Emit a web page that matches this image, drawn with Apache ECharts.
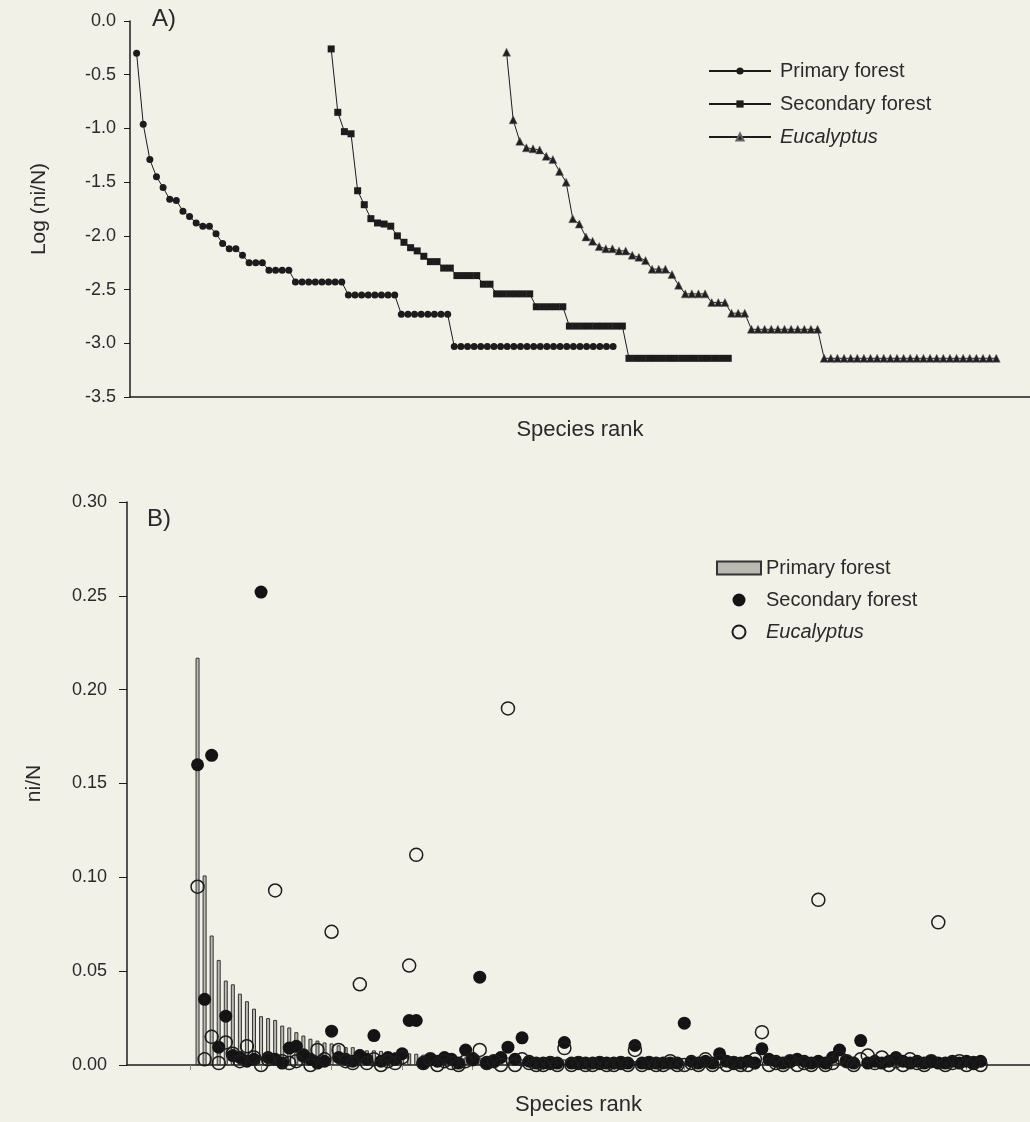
<!DOCTYPE html>
<html>
<head>
<meta charset="utf-8">
<script src="https://cdn.jsdelivr.net/npm/echarts@6/dist/echarts.min.js"></script>
<style>
  html, body { margin: 0; padding: 0; background: #f1f1e8; }
  #chart { width: 1030px; height: 1122px; }
</style>
</head>
<body>
<div id="chart"></div>
<script>
// Panel A: log abundance per species rank
const primaryLog = [
  -0.30, -0.96, -1.29, -1.45, -1.55, -1.66, -1.67, -1.77, -1.82, -1.88,
  -1.91, -1.91, -1.98, -2.07, -2.12, -2.12, -2.18, -2.25, -2.25, -2.25,
  -2.32, -2.32, -2.32, -2.32, -2.43, -2.43, -2.43, -2.43, -2.43, -2.43,
  -2.43, -2.43, -2.55, -2.55, -2.55, -2.55, -2.55, -2.55, -2.55, -2.55,
  -2.73, -2.73, -2.73, -2.73, -2.73, -2.73, -2.73, -2.73, -3.03, -3.03,
  -3.03, -3.03, -3.03, -3.03, -3.03, -3.03, -3.03, -3.03, -3.03, -3.03,
  -3.03, -3.03, -3.03, -3.03, -3.03, -3.03, -3.03, -3.03, -3.03, -3.03,
  -3.03, -3.03, -3.03
];
const secondaryLog = [
  -0.26, -0.85, -1.03, -1.05, -1.58, -1.71, -1.84, -1.88, -1.89, -1.91,
  -2.00, -2.06, -2.11, -2.14, -2.19, -2.24, -2.24, -2.30, -2.30, -2.37,
  -2.37, -2.37, -2.37, -2.45, -2.45, -2.54, -2.54, -2.54, -2.54, -2.54,
  -2.54, -2.66, -2.66, -2.66, -2.66, -2.66, -2.84, -2.84, -2.84, -2.84,
  -2.84, -2.84, -2.84, -2.84, -2.84, -3.14, -3.14, -3.14, -3.14, -3.14,
  -3.14, -3.14, -3.14, -3.14, -3.14, -3.14, -3.14, -3.14, -3.14, -3.14,
  -3.14
];
const eucalyptusLog = [
  -0.29, -0.92, -1.12, -1.18, -1.19, -1.20, -1.26, -1.29, -1.40, -1.50,
  -1.84, -1.89, -2.01, -2.05, -2.10, -2.12, -2.12, -2.14, -2.14, -2.18,
  -2.20, -2.23, -2.31, -2.31, -2.31, -2.36, -2.46, -2.54, -2.54, -2.54,
  -2.54, -2.62, -2.62, -2.62, -2.72, -2.72, -2.72, -2.87, -2.87, -2.87,
  -2.87, -2.87, -2.87, -2.87, -2.87, -2.87, -2.87, -2.87, -3.14, -3.14,
  -3.14, -3.14, -3.14, -3.14, -3.14, -3.14, -3.14, -3.14, -3.14, -3.14,
  -3.14, -3.14, -3.14, -3.14, -3.14, -3.14, -3.14, -3.14, -3.14, -3.14,
  -3.14, -3.14, -3.14, -3.14, -3.14
];
// the three curves are shifted along the rank axis in panel A
const primaryStart = 1.0;
const secondaryStart = 30.4;
const eucalyptusStart = 56.9;

// Panel B: ni/N per species rank
const primaryShare = [
  0.217, 0.101, 0.069, 0.056, 0.045, 0.043, 0.038, 0.034, 0.030, 0.026,
  0.025, 0.024, 0.021, 0.020, 0.0175, 0.0157, 0.014, 0.013, 0.012, 0.0115,
  0.0105, 0.0095, 0.0095, 0.0085, 0.0078, 0.0078, 0.0075, 0.007, 0.0068, 0.0065,
  0.0062, 0.006, 0.0055, 0.005, 0.004, 0.004, 0.004, 0.004, 0.004, 0.004,
  0.004, 0.004, 0.004, 0.004, 0.004, 0.003, 0.003, 0.003, 0.003, 0.003,
  0.003, 0.003, 0.003, 0.003, 0.003, 0.002, 0.002, 0.002, 0.002, 0.002,
  0.002, 0.002, 0.002, 0.002, 0.001, 0.001, 0.001, 0.001, 0.001, 0.001,
  0.001, 0.001, 0.001
];
const secondaryShare = [
  0.160, 0.035, 0.165, 0.0095, 0.026, 0.005, 0.004, 0.002, 0.003, 0.252,
  0.004, 0.003, 0.001, 0.009, 0.010, 0.005, 0.003, 0.001, 0.002, 0.018,
  0.004, 0.003, 0.002, 0.005, 0.003, 0.0157, 0.002, 0.004, 0.003, 0.006,
  0.0237, 0.0237, 0.001, 0.003, 0.002, 0.004, 0.003, 0.001, 0.008, 0.003,
  0.0468, 0.001, 0.002, 0.004, 0.0095, 0.003, 0.0145, 0.002, 0.001, 0.001,
  0.001, 0.001, 0.012, 0.001, 0.001, 0.001, 0.001, 0.001, 0.001, 0.001,
  0.001, 0.001, 0.0104, 0.001, 0.001, 0.001, 0.001, 0.001, 0.001, 0.0223,
  0.002, 0.001, 0.002, 0.001, 0.006, 0.002, 0.001, 0.001, 0.002, 0.001,
  0.0086, 0.003, 0.002, 0.001, 0.002, 0.003, 0.002, 0.001, 0.002, 0.001,
  0.004, 0.008, 0.002, 0.001, 0.013, 0.001, 0.002, 0.001, 0.002, 0.004,
  0.002, 0.001, 0.002, 0.001, 0.002, 0.001, 0.001, 0.002, 0.001, 0.002,
  0.001, 0.002
];
const eucalyptusShare = [
  0.095, 0.003, 0.015, 0.001, 0.012, 0.006, 0.002, 0.010, 0.004, 0.000,
  0.003, 0.093, 0.002, 0.001, 0.002, 0.005, 0.000, 0.008, 0.003, 0.071,
  0.008, 0.002, 0.001, 0.043, 0.001, 0.003, 0.000, 0.002, 0.001, 0.004,
  0.053, 0.112, 0.001, 0.003, 0.000, 0.002, 0.001, 0.000, 0.002, 0.003,
  0.008, 0.001, 0.002, 0.000, 0.190, 0.000, 0.003, 0.001, 0.000, 0.000,
  0.001, 0.000, 0.009, 0.000, 0.001, 0.000, 0.000, 0.001, 0.000, 0.000,
  0.001, 0.000, 0.008, 0.000, 0.001, 0.000, 0.000, 0.002, 0.000, 0.000,
  0.001, 0.000, 0.003, 0.000, 0.002, 0.000, 0.001, 0.000, 0.000, 0.003,
  0.0175, 0.000, 0.001, 0.000, 0.002, 0.000, 0.001, 0.000, 0.088, 0.000,
  0.001, 0.004, 0.002, 0.000, 0.003, 0.005, 0.001, 0.004, 0.000, 0.002,
  0.000, 0.003, 0.001, 0.000, 0.002, 0.076, 0.000, 0.001, 0.002, 0.000,
  0.001, 0.000
];
const rankTicksB = [0, 10, 20, 30, 40, 50, 60, 70, 80, 90, 100, 110];

const font = "'Liberation Sans', Arial, sans-serif";
const ink = '#1c1c1c';

function ranked(values, start) {
  return values.map((v, i) => [start + i, v]);
}

const legendText = {
  fontFamily: font,
  fontSize: 20,
  color: '#2a2a2a',
  rich: {
    i: { fontFamily: font, fontSize: 20, fontStyle: 'italic', color: '#2a2a2a' }
  }
};
function legendName(name) {
  const n = name.trim();
  return n === 'Eucalyptus' ? '{i|Eucalyptus}' : n;
}

const option = {
  backgroundColor: '#f1f1e8',
  animation: false,
  textStyle: { fontFamily: font },
  graphic: [
    { type: 'text', left: 152, top: 7, style: { text: 'A)', font: '24px ' + font, fill: '#2a2a2a' } },
    { type: 'text', left: 147, top: 507, style: { text: 'B)', font: '24px ' + font, fill: '#2a2a2a' } }
  ],
  legend: [{
    orient: 'vertical',
    left: 703,
    top: 56,
    itemWidth: 62,
    itemHeight: 9,
    itemGap: 13,
    textStyle: Object.assign({ padding: [0, 0, 0, 4] }, legendText),
    formatter: legendName,
    data: ['Primary forest', 'Secondary forest', 'Eucalyptus']
  }, {
    orient: 'vertical',
    left: 711,
    top: 553,
    itemWidth: 44,
    itemHeight: 13,
    itemGap: 12,
    textStyle: legendText,
    formatter: legendName,
    data: [
      { name: 'Primary forest ', icon: 'rect' },
      { name: 'Secondary forest ' },
      { name: 'Eucalyptus ' }
    ]
  }],
  grid: [
    { left: 130, top: 21, right: 0, height: 376 },
    { left: 127, top: 502, right: 0, height: 563 }
  ],
  xAxis: [{
    gridIndex: 0,
    type: 'value',
    min: 0,
    max: 136,
    name: 'Species rank',
    nameLocation: 'middle',
    nameGap: 22,
    nameTextStyle: { fontFamily: font, fontSize: 22, color: '#2a2a2a', verticalAlign: 'top' },
    axisLine: { onZero: false, lineStyle: { color: ink, width: 1.5 } },
    axisTick: { show: false },
    axisLabel: { show: false },
    splitLine: { show: false }
  }, {
    gridIndex: 1,
    type: 'value',
    min: -9,
    max: 119,
    name: 'Species rank',
    nameLocation: 'middle',
    nameGap: 29,
    nameTextStyle: { fontFamily: font, fontSize: 22, color: '#2a2a2a', verticalAlign: 'top' },
    axisLine: { onZero: false, lineStyle: { color: ink, width: 1.5 } },
    axisTick: { show: true, length: 5, customValues: rankTicksB, lineStyle: { color: '#888' } },
    axisLabel: { show: false },
    splitLine: { show: false }
  }],
  yAxis: [{
    gridIndex: 0,
    type: 'value',
    min: -3.5,
    max: 0,
    interval: 0.5,
    name: 'Log (ni/N)',
    nameLocation: 'middle',
    nameGap: 80,
    nameTextStyle: { fontFamily: font, fontSize: 21, color: '#2a2a2a' },
    axisLine: { show: true, onZero: false, lineStyle: { color: ink, width: 1.5 } },
    axisTick: { show: true, length: 6, lineStyle: { color: ink } },
    axisLabel: { margin: 14, fontFamily: font, fontSize: 18, color: '#2a2a2a', formatter: v => v.toFixed(1) },
    splitLine: { show: false }
  }, {
    gridIndex: 1,
    type: 'value',
    min: 0,
    max: 0.3,
    interval: 0.05,
    name: 'ni/N',
    nameLocation: 'middle',
    nameGap: 82,
    nameTextStyle: { fontFamily: font, fontSize: 21, color: '#2a2a2a' },
    axisLine: { show: true, onZero: false, lineStyle: { color: ink, width: 1.5 } },
    axisTick: { show: true, length: 8, lineStyle: { color: ink } },
    axisLabel: { margin: 20, fontFamily: font, fontSize: 18, color: '#2a2a2a', formatter: v => v.toFixed(2) },
    splitLine: { show: false }
  }],
  series: [{
    name: 'Primary forest',
    type: 'line',
    xAxisIndex: 0,
    yAxisIndex: 0,
    data: ranked(primaryLog, primaryStart),
    symbol: 'circle',
    symbolSize: 7,
    lineStyle: { color: ink, width: 1 },
    itemStyle: { color: ink }
  }, {
    name: 'Secondary forest',
    type: 'line',
    xAxisIndex: 0,
    yAxisIndex: 0,
    data: ranked(secondaryLog, secondaryStart),
    symbol: 'rect',
    symbolSize: 7,
    lineStyle: { color: ink, width: 1 },
    itemStyle: { color: ink }
  }, {
    name: 'Eucalyptus',
    type: 'line',
    xAxisIndex: 0,
    yAxisIndex: 0,
    data: ranked(eucalyptusLog, eucalyptusStart),
    symbol: 'triangle',
    symbolSize: 8,
    lineStyle: { color: ink, width: 1 },
    itemStyle: { color: '#202020', borderColor: '#666', borderWidth: 0.5 }
  }, {
    name: 'Primary forest ',
    type: 'bar',
    xAxisIndex: 1,
    yAxisIndex: 1,
    data: ranked(primaryShare, 1),
    barWidth: 4,
    itemStyle: { color: '#b9b9b1', borderColor: '#333', borderWidth: 1 }
  }, {
    name: 'Secondary forest ',
    type: 'scatter',
    xAxisIndex: 1,
    yAxisIndex: 1,
    data: ranked(secondaryShare, 1),
    symbolSize: 13,
    itemStyle: { color: '#141414', opacity: 1 }
  }, {
    name: 'Eucalyptus ',
    type: 'scatter',
    xAxisIndex: 1,
    yAxisIndex: 1,
    data: ranked(eucalyptusShare, 1),
    symbolSize: 13,
    itemStyle: { color: 'rgba(0,0,0,0)', borderColor: '#1c1c1c', borderWidth: 1.5, opacity: 1 }
  }]
};

const chart = echarts.init(document.getElementById('chart'));
chart.setOption(option);
</script>
</body>
</html>
